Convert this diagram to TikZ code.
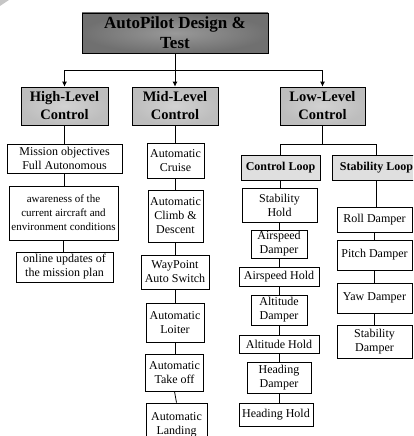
\documentclass[tikz,border=0pt]{standalone}
\usepackage{fontspec}
\setmainfont{Liberation Serif}
\usetikzlibrary{arrows.meta}
\begin{document}
\begin{tikzpicture}[x=1pt,y=-1pt,
  box/.style={draw=black, line width=0.8pt, fill=white, align=center, inner sep=0pt, font=\fontsize{12}{14}\selectfont},
  smallbox/.style={box, font=\fontsize{11}{14}\selectfont},
  topbox/.style={box, shade, inner color=gray!80, outer color=gray!88!black, font=\bfseries\fontsize{17}{20}\selectfont},
  lvl/.style={box, shade, inner color=gray!35, outer color=gray!52, font=\bfseries\fontsize{14.5}{18}\selectfont},
  sub/.style={box, fill=gray!25, font=\bfseries\fontsize{12}{14}\selectfont},
  conn/.style={line width=0.8pt},
  arr/.style={conn, -{Latex[length=5pt,width=5pt]}}
]
\useasboundingbox (0,0) rectangle (413,436);
\clip (0,0) rectangle (413,436);
\fill[gray!45] (0,0) -- (9,0) -- (0,6) -- cycle;

% top level
\node[topbox, minimum width=186, minimum height=40] (top) at (175,33) {AutoPilot Design \&\\Test};
\node[lvl, minimum width=87, minimum height=38] (high) at (64.5,106) {High-Level\\Control};
\node[lvl, minimum width=86, minimum height=38] (mid) at (175,106) {Mid-Level\\Control};
\node[lvl, minimum width=85, minimum height=38] (low) at (322.5,106) {Low-Level\\Control};

\coordinate (j) at (175,70);
\draw[conn] (top.south) -- (j);
\draw[conn] (j -| high.north) -- (j -| low.north);
\draw[arr] (j -| high.north) -- (high.north);
\draw[arr] (j) -- (mid.north);
\draw[arr] (j -| low.north) -- (low.north);

% high-level column
\node[box, minimum width=115, minimum height=29] (mis) at (64.5,158.5) {Mission objectives\\Full Autonomous};
\node[smallbox, minimum width=109, minimum height=54] (awa) at (63.5,213) {awareness of the\\current aircraft and\\environment conditions};
\node[box, minimum width=97, minimum height=30] (onl) at (64.5,267) {online updates of\\the mission plan};
\draw[conn] (high.south) -- (high.south |- mis.north);
\draw[conn] (mis.south) -- (mis.south |- awa.north);
\draw[conn] (awa.south) -- (awa.south |- onl.north);

% mid-level column
\node[box, minimum width=57, minimum height=35] (cru) at (175.5,160.5) {Automatic\\Cruise};
\node[box, minimum width=55, minimum height=52] (cli) at (175.5,216) {Automatic\\Climb \&\\Descent};
\node[box, minimum width=68, minimum height=34] (way) at (175,272) {WayPoint\\Auto Switch};
\node[box, minimum width=58, minimum height=39] (loi) at (175,322.5) {Automatic\\Loiter};
\node[box, minimum width=58, minimum height=37] (tak) at (174.5,372.5) {Automatic\\Take off};
\node[box, minimum width=61, minimum height=44] (lan) at (176.5,425) {Automatic\\Landing};
\draw[conn] (mid.south) -- (mid.south |- cru.north);
\draw[conn] (cru.south) -- (cru.south |- cli.north);
\draw[conn] (cli.south) -- (cli.south |- way.north);
\draw[conn] (way.south) -- (way.south |- loi.north);
\draw[conn] (loi.south) -- (loi.south |- tak.north);
\draw[conn] (tak.south) -- (lan.north);

% low-level split
\node[sub, minimum width=79, minimum height=25] (cl) at (280.5,167.5) {Control Loop};
\node[sub, minimum width=88, minimum height=25] (sl) at (376.5,167.5) {Stability Loop};
\coordinate (k) at (322.5,144);
\draw[conn] (low.south) -- (k);
\draw[conn] (k -| cl.north) -- (k -| sl.north);
\draw[conn] (k -| cl.north) -- (cl.north);
\draw[conn] (k -| sl.north) -- (sl.north);

% control loop column
\node[box, minimum width=75, minimum height=34] (sh) at (279.5,205) {Stability\\Hold};
\node[box, minimum width=56, minimum height=28] (ad) at (279,244) {Airspeed\\Damper};
\node[box, minimum width=80, minimum height=19] (ah) at (279,276.5) {Airspeed Hold};
\node[box, minimum width=56, minimum height=30] (altd) at (279,310) {Altitude\\Damper};
\node[box, minimum width=80, minimum height=18] (alth) at (279,344) {Altitude Hold};
\node[box, minimum width=64, minimum height=31] (hd) at (279,377.5) {Heading\\Damper};
\node[box, minimum width=74, minimum height=23] (hh) at (276,414.5) {Heading Hold};
\draw[conn] (cl.south) -- (cl.south |- sh.north);
\draw[conn] (sh.south) -- (sh.south |- ad.north);
\draw[conn] (ad.south) -- (ad.south |- ah.north);
\draw[conn] (ah.south) -- (ah.south |- altd.north);
\draw[conn] (altd.south) -- (altd.south |- alth.north);
\draw[conn] (alth.south) -- (alth.south |- hd.north);
\draw[conn] (hd.south) -- (hd.south |- hh.north);

% stability loop column
\node[box, minimum width=75, minimum height=25] (rd) at (374.5,219.5) {Roll Damper};
\node[box, minimum width=75, minimum height=30] (pd) at (374.5,255) {Pitch Damper};
\node[box, minimum width=75, minimum height=30] (yd) at (374.5,298) {Yaw Damper};
\node[box, minimum width=75, minimum height=33] (sd) at (374.5,341.5) {Stability\\Damper};
\draw[conn] (sl.south) -- (sl.south |- rd.north);
\draw[conn] (rd.south) -- (rd.south |- pd.north);
\draw[conn] (pd.south) -- (pd.south |- yd.north);
\draw[conn] (yd.south) -- (yd.south |- sd.north);
\end{tikzpicture}
\end{document}
